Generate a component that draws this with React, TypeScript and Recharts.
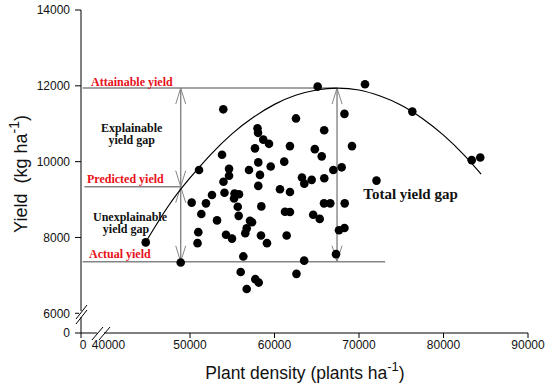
import { ComposedChart, Scatter, Line, XAxis, YAxis, ReferenceLine, ReferenceDot, Label } from "recharts";

// observed plant density (plants/ha) and yield (kg/ha)
const density = [
  44760, 48900, 50200, 51070, 50980, 50890, 51340, 51890, 52600, 53200,
  53790, 53940, 53960, 54080, 54620, 54620, 54260, 54970, 55270, 55800,
  55210, 55650, 55760, 56310, 56000, 56710, 57730, 58130, 56980, 57100,
  57340, 56710, 56540, 57690, 57990, 58050, 58670, 59350, 58080, 58280,
  58080, 59550, 58440, 58400, 59110, 60650, 61830, 61150, 61830, 62540,
  61240, 61830, 61440, 62600, 63510, 63250, 63530, 64400, 64770, 65590,
  65880, 65890, 64580, 65350, 65860, 66600, 66960, 67950, 68280, 69170,
  68310, 67630, 68280, 67280, 72070, 65110, 70710, 76310, 83340, 84350,
];
const grainYield = [
  7870, 7340, 8920, 9780, 8140, 7850, 8620, 8900, 9120, 8450,
  10180, 11380, 9470, 9180, 9810, 9630, 8070, 7970, 9160, 9140,
  9030, 8810, 8570, 7500, 7090, 6640, 6900, 6810, 9780, 8440,
  8400, 8240, 8110, 10350, 10880, 10760, 10580, 10470, 9980, 9650,
  9360, 9870, 8820, 8050, 7850, 9270, 9200, 10000, 10410, 11140,
  8680, 8670, 8050, 7040, 7390, 9580, 9420, 9520, 10330, 10140,
  10830, 9560, 8600, 8490, 8900, 8900, 9780, 9850, 11260, 10410,
  8900, 8190, 8250, 7560, 9500, 11980, 12040, 11320, 10040, 10110,
];

// fitted response curve
const curveDensity = [44760, 47500, 50000, 52500, 55000, 57500, 60000, 62500, 65000, 67400, 70000, 72500, 75000, 77500, 80000, 82500, 84450];
const curveYield = [7880, 8850, 9570, 10200, 10740, 11170, 11510, 11750, 11890, 11940, 11890, 11730, 11490, 11140, 10700, 10160, 9670];

const attainable = 11940;
const predicted = 9340;
const actual = 7360;
const gapDensity = 48900;
const peakDensity = 67400;

// axis is broken: lowest value of each domain is shown as "0"
const xMin = 37100;
const yMin = 5480;
const xTicks = [xMin, 40000, 50000, 60000, 70000, 80000, 90000];
const yTicks = [yMin, 6000, 8000, 10000, 12000, 14000];

const points = density.map((x, i) => ({ x, y: grainYield[i] }));
const curve = curveDensity.map((x, i) => ({ x, y: curveYield[i] }));

const GRAY = "#858585";
const RED = "#e8101a";
const SERIF = "'Liberation Serif', 'Times New Roman', serif";
const SANS = "'Liberation Sans', Arial, sans-serif";

const Arrow = (p: any) => {
  const top = Math.min(p.y1, p.y2);
  const bottom = Math.max(p.y1, p.y2);
  const x = p.x1;
  const h = 16, w = 5;
  return (
    <g stroke={GRAY} fill="none">
      <line x1={x} y1={top} x2={x} y2={bottom} strokeWidth={1.4} />
      <polyline points={`${x - w},${top + h} ${x},${top} ${x + w},${top + h}`} strokeWidth={1} />
      <polyline points={`${x - w},${bottom - h} ${x},${bottom} ${x + w},${bottom - h}`} strokeWidth={1} />
    </g>
  );
};

const note = (lines: string[], opts: { color?: string; size?: number; anchor?: string; dx?: number[] }) => (p: any) => (
  <text
    x={p.cx}
    y={p.cy}
    fill={opts.color || "#111"}
    fontFamily={SERIF}
    fontWeight="bold"
    fontSize={opts.size || 12}
    textAnchor={opts.anchor || "start"}
  >
    {lines.map((l, i) => (
      <tspan key={i} x={p.cx + ((opts.dx && opts.dx[i]) || 0)} dy={i ? 12.5 : 0}>{l}</tspan>
    ))}
  </text>
);

const Breaks = (p: any) => {
  const ox = p.cx, oy = p.cy;
  return (
    <g>
      <rect x={ox - 2} y={oy - 22} width={4} height={6} fill="#fff" />
      <line x1={ox - 5} y1={oy - 14} x2={ox + 6} y2={oy - 28} stroke="#000" />
      <line x1={ox - 5} y1={oy - 9} x2={ox + 6} y2={oy - 23} stroke="#000" />
      <rect x={ox + 16} y={oy - 2} width={7} height={4} fill="#fff" />
      <line x1={ox + 11} y1={oy + 7} x2={ox + 22} y2={oy - 6} stroke="#000" />
      <line x1={ox + 18} y1={oy + 7} x2={ox + 29} y2={oy - 6} stroke="#000" />
    </g>
  );
};

const XTick = (p: any) => {
  const v = p.payload.value;
  return (
    <g>
      {v !== 40000 && <line x1={p.x} y1={p.y - 7} x2={p.x} y2={p.y - 2} stroke="#000" />}
      <text x={p.x + (v === xMin ? 2 : v === 40000 ? 3 : 0)} y={p.y + 9} textAnchor="middle" fontFamily={SANS} fontSize={12} fill="#111">
        {v === xMin ? "0" : v}
      </text>
    </g>
  );
};

const App = () => {
  return (
    <div style={{ position: "absolute", left: 0, top: 0, background: "#fff" }}>
      <ComposedChart width={550} height={383} margin={{ top: 10, right: 22, left: 0, bottom: 0 }} data={points}>
        <XAxis
          type="number"
          dataKey="x"
          domain={[xMin, 90000]}
          ticks={xTicks}
          interval={0}
          allowDataOverflow
          height={50}
          stroke="#000"
          tickLine={false}
          tickSize={5}
          tickMargin={2}
          tick={XTick}
        >
          <Label
            content={() => (
              <text x={305} y={379} textAnchor="middle" fontFamily={SANS} fontSize={17.5} fill="#111">
                Plant density (plants ha<tspan dy={-8} fontSize={13}>-1</tspan><tspan dy={8}>)</tspan>
              </text>
            )}
          />
        </XAxis>
        <YAxis
          type="number"
          dataKey="y"
          domain={[yMin, 14000]}
          ticks={yTicks}
          interval={0}
          allowDataOverflow
          width={81}
          stroke="#000"
          tickSize={6}
          tickMargin={5}
          tick={{ fontFamily: SANS, fontSize: 12, fill: "#111" }}
          tickFormatter={(v: number) => (v === yMin ? "0" : String(v))}
        >
          <Label
            content={() => (
              <text
                transform="rotate(-90, 27, 174)"
                x={27}
                y={174}
                textAnchor="middle"
                fontFamily={SANS}
                fontSize={18}
                fill="#111"
                style={{ whiteSpace: "pre" }}
              >
                {"Yield  (kg ha"}<tspan dy={-8} fontSize={14}>-1</tspan><tspan dy={8}>)</tspan>
              </text>
            )}
          />
        </YAxis>

        <ReferenceLine segment={[{ x: 37300, y: attainable }, { x: peakDensity, y: attainable }]} stroke={GRAY} strokeWidth={1.5} ifOverflow="visible" />
        <ReferenceLine segment={[{ x: 37500, y: predicted }, { x: gapDensity, y: predicted }]} stroke={GRAY} strokeWidth={1.5} ifOverflow="visible" />
        <ReferenceLine segment={[{ x: 37300, y: actual }, { x: 73100, y: actual }]} stroke={GRAY} strokeWidth={1.5} ifOverflow="visible" />
        <ReferenceLine segment={[{ x: gapDensity, y: attainable }, { x: gapDensity, y: predicted }]} shape={Arrow} ifOverflow="visible" />
        <ReferenceLine segment={[{ x: gapDensity, y: predicted }, { x: gapDensity, y: actual }]} shape={Arrow} ifOverflow="visible" />
        <ReferenceLine segment={[{ x: peakDensity, y: attainable }, { x: peakDensity, y: actual }]} shape={Arrow} ifOverflow="visible" />

        <Line data={curve} dataKey="y" type="natural" stroke="#000" strokeWidth={1.2} dot={false} activeDot={false} isAnimationActive={false} />
        <Scatter
          dataKey="y"
          isAnimationActive={false}
          shape={(p: any) => <circle cx={p.cx} cy={p.cy} r={4.3} fill="#000" />}
        />

        <ReferenceDot x={38280} y={11995} r={0} ifOverflow="visible" shape={note(["Attainable yield"], { color: RED })} />
        <ReferenceDot x={37810} y={9436} r={0} ifOverflow="visible" shape={note(["Predicted yield"], { color: RED })} />
        <ReferenceDot x={38050} y={7466} r={0} ifOverflow="visible" shape={note(["Actual yield"], { color: RED })} />
        <ReferenceDot x={43100} y={10782} r={0} ifOverflow="visible" shape={note(["Explainable", "yield gap"], { anchor: "middle" })} />
        <ReferenceDot x={42900} y={8447} r={0} ifOverflow="visible" shape={note(["Unexplainable", "yield gap"], { anchor: "middle", dx: [0, -4] })} />
        <ReferenceDot x={70510} y={9006} r={0} ifOverflow="visible" shape={note(["Total yield gap"], { size: 15 })} />
        <ReferenceDot x={xMin} y={yMin} r={0} ifOverflow="visible" shape={Breaks} />
      </ComposedChart>
    </div>
  );
};

export default App;
